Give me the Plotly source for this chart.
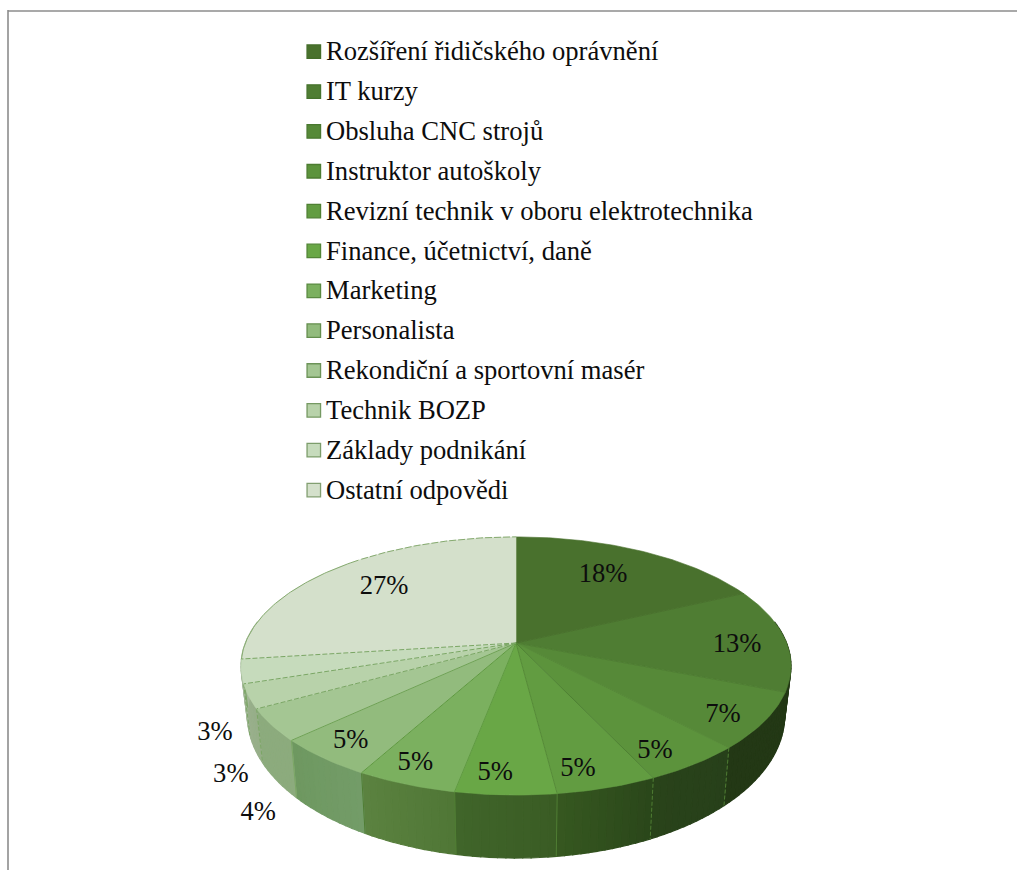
import math
import plotly.graph_objects as go

# Survey answers, clockwise from twelve o'clock
categories = [
    "Rozšíření řidičského oprávnění", "IT kurzy", "Obsluha CNC strojů",
    "Instruktor autoškoly", "Revizní technik v oboru elektrotechnika",
    "Finance, účetnictví, daně", "Marketing", "Personalista",
    "Rekondiční a sportovní masér", "Technik BOZP", "Základy podnikání",
    "Ostatní odpovědi",
]
values = [18, 13, 7, 5, 5, 5, 5, 5, 4, 3, 3, 27]

top_colors = [
    "#49712d", "#4f7d33", "#568938", "#5c933c", "#629c41", "#69a746",
    "#7bb05f", "#92bb7d", "#a4c693", "#b8d2aa", "#c6dbbc", "#d4e0cb",
]
# Side wall shading per slice, left edge to right edge as seen on screen
wall_left = [
    "#233815", "#233815", "#233815", "#29431a", "#365820", "#40652a",
    "#5c8340", "#6e9860", "#8cab7d", "#9ab08d", "#a3b898", "#a3b898",
]
wall_right = [
    "#233815", "#233815", "#233815", "#27401a", "#2a461a", "#3a5c24",
    "#4f7636", "#739c68", "#8cab7d", "#96ae88", "#a3b898", "#a3b898",
]
edge_colors = [
    "#49712d", "#4f7d33", "#568938", "#4f8034", "#568a38", "#5f9a40",
    "#5f9a40", "#6fa255", "#7aa664", "#7aa664", "#7aa664", "#7aa664",
]

# Label placement: turn from slice middle (degrees) and radius in pie units
label_turn = [-2.5, 1.8, 2.0, 3.0, 3.2, 2.5, 1.7, 0.7, -18.7, -21.2, -19.7, 2.2]
label_radius = [0.717, 0.817, 0.862, 0.861, 0.865, 0.869, 0.869, 0.863, 1.33, 1.249, 1.17, 0.734]

FONT = "Liberation Serif"
FONT_SIZE = 26.6
TEXT_DY = 2.0

# Perspective disc in a pixel-sized plot area
CX, CY = 516.0, 643.0
RX, RY, PERSP = 270.6, 125.0, 0.178
BOTTOM_X, BOTTOM_Y, BOTTOM_CY = 0.977, 1.105, 690.0


def project(turn_deg, r=1.0):
    a = math.radians(turn_deg)
    x, y = r * math.sin(a), -r * math.cos(a)
    d = 1 - PERSP * y
    return CX + RX * x / d, CY + RY * y / d


def bottom(turn_deg):
    x, y = project(turn_deg)
    return CX + BOTTOM_X * (x - CX), BOTTOM_CY + BOTTOM_Y * (y - CY)


def mix(c1, c2, t):
    a = [int(c1[i:i + 2], 16) for i in (1, 3, 5)]
    b = [int(c2[i:i + 2], 16) for i in (1, 3, 5)]
    return "rgb({},{},{})".format(*[round(p + (q - p) * t) for p, q in zip(a, b)])


total = sum(values)
bounds = [0.0]
for v in values:
    bounds.append(bounds[-1] + v / total * 360)

fig = go.Figure()

# Side wall: vertical strips with a horizontal gradient
WALL_START, WALL_END = 80.0, 280.0
for i in range(len(values)):
    a0, a1 = max(bounds[i], WALL_START), min(bounds[i + 1], WALL_END)
    if a1 <= a0:
        continue
    n = max(2, int((a1 - a0) / 1.5))
    for k in range(n):
        s0 = a0 + (a1 - a0) * k / n
        s1 = a0 + (a1 - a0) * (k + 1) / n
        t = 1 - (k + 0.5) / n  # angles run right to left along the front
        col = mix(wall_left[i], wall_right[i], t)
        p = [project(s0), project(s1), bottom(s1), bottom(s0), project(s0)]
        fig.add_trace(go.Scatter(
            x=[q[0] for q in p], y=[q[1] for q in p], mode="lines", fill="toself",
            fillcolor=col, line=dict(color=col, width=1.2), hoverinfo="skip",
        ))

# Seams on the wall between neighbouring slices
for i in range(2, len(values) - 1):
    a = bounds[i + 1]
    x0, y0 = project(a)
    x1, y1 = bottom(a)
    light = i >= 7
    fig.add_trace(go.Scatter(
        x=[x0, x1], y=[y0, y1], mode="lines", hoverinfo="skip",
        line=dict(color="#7aa664" if light else "#4f7d33", width=1,
                  dash="4px,2px" if i in (2, 3, 8, 9) else "solid"),
    ))

# Top face of the pie
for i, name in enumerate(categories):
    a0, a1 = bounds[i], bounds[i + 1]
    n = max(8, int((a1 - a0) / 1.0))
    rim = [project(a0 + (a1 - a0) * k / n) for k in range(n + 1)]
    xs = [CX] + [q[0] for q in rim] + [CX]
    ys = [CY] + [q[1] for q in rim] + [CY]
    fig.add_trace(go.Scatter(
        x=xs, y=ys, mode="lines", fill="toself", fillcolor=top_colors[i],
        line=dict(color=top_colors[i], width=0.6), name=name, hoverinfo="name",
    ))

# Slice outlines: the paler slices carry a thin dashed green edge
for i in range(1, len(values)):
    x, y = project(bounds[i])
    fig.add_trace(go.Scatter(
        x=[CX, x], y=[CY, y], mode="lines", hoverinfo="skip",
        line=dict(color=edge_colors[i - 1], width=1,
                  dash="5px,2px" if i >= 9 else "solid"),
    ))
rim = [project(bounds[-2] + (360 - bounds[-2]) * k / 120) for k in range(121)]
split = 70
fig.add_trace(go.Scatter(
    x=[q[0] for q in rim[:split]], y=[q[1] for q in rim[:split]], mode="lines",
    hoverinfo="skip", line=dict(color="#86aa70", width=1),
))
fig.add_trace(go.Scatter(
    x=[q[0] for q in rim[split:]], y=[q[1] for q in rim[split:]], mode="lines",
    hoverinfo="skip", line=dict(color="#86aa70", width=1, dash="7px,2px"),
))

# Percentage labels
label_xy = []
for i in range(len(values)):
    mid = (bounds[i] + bounds[i + 1]) / 2 + label_turn[i]
    label_xy.append(project(mid, label_radius[i]))
fig.add_trace(go.Scatter(
    x=[q[0] for q in label_xy], y=[q[1] + TEXT_DY for q in label_xy], mode="text",
    text=[f"{v}%" for v in values], textposition="middle center",
    textfont=dict(family=FONT, size=FONT_SIZE, color="#0d0d0d"), hoverinfo="skip",
))

# Legend column
LEG_TOP, LEG_STEP, LEG_SWATCH_X, LEG_TEXT_X = 51.7, 39.85, 313.8, 326.0
leg_y = [LEG_TOP + LEG_STEP * i for i in range(len(categories))]
fig.add_trace(go.Scatter(
    x=[LEG_SWATCH_X] * len(categories), y=leg_y, mode="markers", hoverinfo="skip",
    marker=dict(symbol="square", size=13.5, color=top_colors,
                line=dict(color=[mix(c, "#3f6a28", 0.55) for c in top_colors], width=1.3)),
))
fig.add_trace(go.Scatter(
    x=[LEG_TEXT_X] * len(categories), y=[v + TEXT_DY for v in leg_y], mode="text",
    text=categories, textposition="middle right", hoverinfo="skip",
    textfont=dict(family=FONT, size=FONT_SIZE, color="#0d0d0d"),
))

fig.update_layout(
    width=1017, height=870, showlegend=False,
    margin=dict(l=0, r=0, t=0, b=0, pad=0),
    paper_bgcolor="white", plot_bgcolor="white",
    xaxis=dict(range=[0, 1017], visible=False, fixedrange=True),
    yaxis=dict(range=[870, 0], visible=False, fixedrange=True),
    shapes=[
        dict(type="line", xref="x", yref="y", x0=8, x1=1017, y0=11, y1=11,
             line=dict(color="#8c8c8c", width=1.6)),
        dict(type="line", xref="x", yref="y", x0=8, x1=8, y0=10, y1=870,
             line=dict(color="#8c8c8c", width=1.6)),
    ],
)

fig.write_html("out.html", config=dict(displayModeBar=False))
